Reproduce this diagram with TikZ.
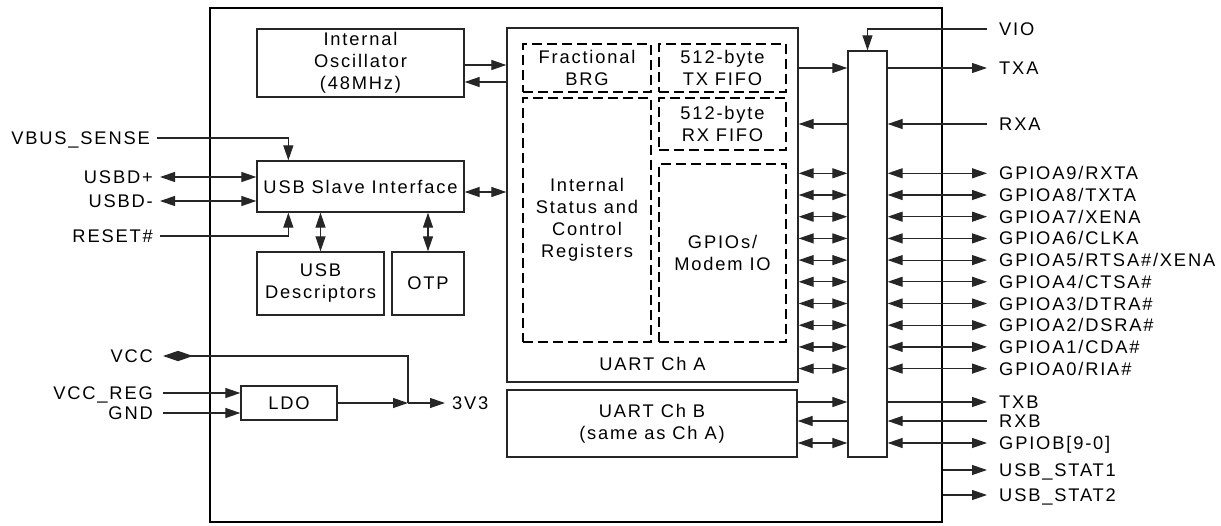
\documentclass[tikz,border=0pt]{standalone}
\usepackage{fontspec}
\setmainfont{Liberation Sans}[LetterSpace=10]
\usetikzlibrary{arrows.meta}
\begin{document}
\begin{tikzpicture}[x=1pt,y=-1pt,
  font=\fontsize{18.3}{22}\selectfont,
  box/.style={draw=black!85, line width=1.3pt, inner sep=0pt, align=center},
  dbox/.style={draw=black, line width=2.6pt, dash pattern=on 10pt off 5pt, inner sep=0pt, align=center},
  tip/.tip={Triangle[length=15pt,width=10pt]},
  arr/.style={line width=1.2pt, draw=black!85, -tip},
  darr/.style={line width=1.2pt, draw=black!85, tip-tip},
  diam/.style={line width=1.2pt, draw=black!85, {Triangle[length=15pt,width=10pt,sep=0pt] Triangle[length=15pt,width=10pt,reversed,sep=0pt]}-},
  lft/.style={anchor=east, inner xsep=7pt, inner ysep=0pt, text height=13pt, text depth=0pt},
  rgt/.style={anchor=west, inner xsep=12pt, inner ysep=0pt, text height=13pt, text depth=0pt},
]
\useasboundingbox (0,0) rectangle (1221,525);

% chip outline
\node[draw=black, line width=2.2pt, inner sep=0pt, minimum width=732pt, minimum height=514pt] (chip) at (576,265) {};

% blocks
\node[box, minimum width=207pt, minimum height=68pt] (osc) at (360.5,63) {Internal\\Oscillator\\(48MHz)};
\node[box, minimum width=207pt, minimum height=51pt] (usb) at (360.5,186.5) {USB Slave Interface};
\node[box, minimum width=127pt, minimum height=63pt] (desc) at (320.5,283.5) {USB\\Descriptors};
\node[box, minimum width=72pt, minimum height=63pt] (otp) at (428,283.5) {OTP};
\node[box, minimum width=96pt, minimum height=34pt] (ldo) at (289,403) {LDO};
\node[box, minimum width=291pt, minimum height=354pt] (uarta) at (652.5,205) {};
\node at ([yshift=19pt]uarta.south) (uartalbl) {UART Ch A};
\node[dbox, minimum width=128pt, minimum height=48pt] (brg) at (587,68) {Fractional\\BRG};
\node[dbox, minimum width=127pt, minimum height=48pt] (txf) at (722.5,68) {512-byte\\TX FIFO};
\node[dbox, minimum width=127pt, minimum height=52pt] (rxf) at (722.5,124) {512-byte\\RX FIFO};
\node[dbox, minimum width=128pt, minimum height=244pt] (isc) at (587,220) {Internal\\Status and\\Control\\Registers};
\node[dbox, minimum width=127pt, minimum height=178pt] (gpio) at (722.5,253) {GPIOs/\\Modem IO};
\node[box, minimum width=290pt, minimum height=67pt] (uartb) at (652,423.5) {UART Ch B\\(same as Ch A)};
\node[box, minimum width=39pt, minimum height=406pt] (bus) at (867.5,254) {};

% left labels
\node[lft] (vbus) at (157,138) {VBUS\_SENSE};
\node[lft] (usbdp) at (160,177) {USBD+};
\node[lft] (usbdm) at (160,201) {USBD-};
\node[lft] (reset) at (160,236) {RESET\#};
\node[lft, inner xsep=10pt] (vcc) at (163,356) {VCC};
\node[lft, inner xsep=10pt] (vccreg) at (163,393) {VCC\_REG};
\node[lft, inner xsep=10pt] (gnd) at (163,413) {GND};
\node[rgt, inner xsep=7pt] (v33) at (445,403) {3V3};

% right labels
\node[rgt] (vio) at (987,29) {VIO};
\node[rgt] (txa) at (987,68) {TXA};
\node[rgt] (rxa) at (987,124) {RXA};
\node[rgt] (txb) at (987,402) {TXB};
\node[rgt] (rxb) at (987,421) {RXB};
\node[rgt] (gpiob) at (987,443) {GPIOB[9-0]};
\node[rgt] (stat1) at (987,470) {USB\_STAT1};
\node[rgt] (stat2) at (987,495) {USB\_STAT2};

% left side connectors
\draw[arr] (vbus.east) -| ([xshift=32pt]usb.north west);
\draw[darr] (usbdp.east) -- (usbdp.east -| usb.west);
\draw[darr] (usbdm.east) -- (usbdm.east -| usb.west);
\draw[arr] (reset.east) -| ([xshift=32pt]usb.south west);
\draw[darr] (usb.south -| desc.north) -- (desc.north);
\draw[darr] (usb.south -| otp.north) -- (otp.north);
\draw[darr] (usb.east |- 0,192) -- (uarta.west |- 0,192);
\draw[arr] (osc.east |- 0,65) -- (uarta.west |- 0,65);
\draw[arr] (uarta.west |- 0,82) -- (osc.east |- 0,82);

% power
\coordinate (j) at (408,403);
\draw[diam] (vcc.east) -| (j);
\draw[arr] (vccreg.east) -- (vccreg.east -| ldo.west);
\draw[arr] (gnd.east) -- (gnd.east -| ldo.west);
\draw[arr] (ldo.east) -- (j);
\draw[arr] (j) -- (v33.west);

% right side
\draw[arr] (vio.west) -| (bus.north);
\draw[arr] (uarta.east |- 0,68) -- (bus.west |- 0,68);
\draw[arr] (bus.east |- txa.west) -- (txa.west);
\draw[arr] (rxa.west) -- (bus.east |- rxa.west);
\draw[arr] (bus.west |- 0,124) -- (uarta.east |- 0,124);

\foreach \t [count=\i from 0] in {{GPIOA9/RXTA},{GPIOA8/TXTA},{GPIOA7/XENA},{GPIOA6/CLKA},{GPIOA5/RTSA\#/XENA},{GPIOA4/CTSA\#},{GPIOA3/DTRA\#},{GPIOA2/DSRA\#},{GPIOA1/CDA\#},{GPIOA0/RIA\#}}{
  \pgfmathsetmacro\yy{173.3+21.7*\i}
  \node[rgt] (gp\i) at (987,\yy) {\t};
  \draw[darr] (uarta.east |- 0,\yy) -- (bus.west |- 0,\yy);
  \draw[darr] (bus.east |- 0,\yy) -- (gp\i.west);
}

\draw[arr] (uartb.east |- 0,402) -- (bus.west |- 0,402);
\draw[arr] (bus.east |- txb.west) -- (txb.west);
\draw[arr] (rxb.west) -- (bus.east |- rxb.west);
\draw[arr] (bus.west |- 0,421) -- (uartb.east |- 0,421);
\draw[darr] (uartb.east |- 0,443) -- (bus.west |- 0,443);
\draw[darr] (bus.east |- gpiob.west) -- (gpiob.west);
\draw[arr] (chip.east |- stat1.west) -- (stat1.west);
\draw[arr] (chip.east |- stat2.west) -- (stat2.west);
\end{tikzpicture}
\end{document}
